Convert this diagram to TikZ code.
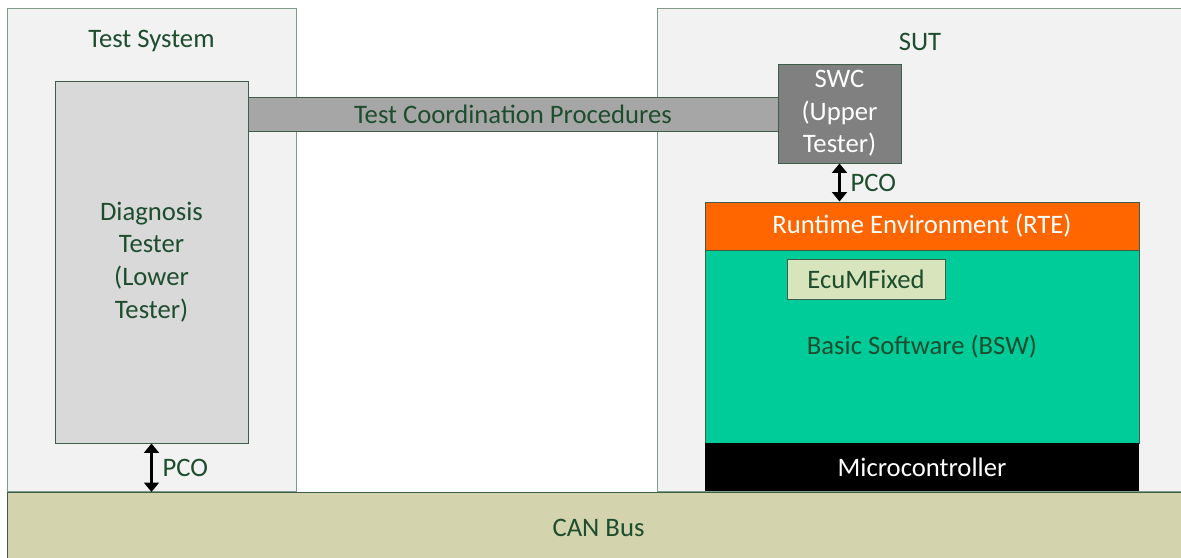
\documentclass[tikz,border=0pt]{standalone}
\usepackage{fontspec}
\setmainfont{Carlito}
\usetikzlibrary{arrows.meta}

\definecolor{txtgreen}{HTML}{1E4D2E}
\definecolor{framegreen}{HTML}{7F9A88}
\definecolor{edgegreen}{HTML}{3E5E4A}
\definecolor{rtecol}{HTML}{FF6600}
\definecolor{bswcol}{HTML}{00CC99}
\definecolor{ecumcol}{HTML}{D8E4BC}
\definecolor{buscol}{HTML}{D3D3AD}

\begin{document}
\begin{tikzpicture}[
    x=0.75pt, y=-0.75pt,
    font=\fontsize{20}{24.5}\selectfont,
    every node/.style={rectangle,inner sep=0pt,text=txtgreen,align=center,line width=0.75pt},
    area/.style={draw=framegreen,fill=black!5},
    block/.style={draw=edgegreen},
    pco/.style={{Triangle[width=11pt,length=7pt]}-{Triangle[width=11pt,length=7pt]},line width=1.6pt}
]
    \useasboundingbox (0,0) rectangle (1181,557);

    % systems
    \node[area,minimum width=216.75pt,minimum height=362.25pt] (testsys) at (151.5,249.5) {};
    \node[area,minimum width=399.75pt,minimum height=362.25pt] (sut) at (923.5,249.5) {};
    \node (testsyslbl) at (151.5,41) {Test System};
    \node (sutlbl) at (920,42) {SUT};

    % bus
    \node[block,fill=buscol,minimum width=887.25pt,minimum height=53.25pt] (canbus) at (598.5,528) {CAN Bus};

    % testers
    \node[block,fill=black!15,minimum width=144.75pt,minimum height=271.5pt] (tester) at (151.5,262)
        {Diagnosis\\Tester\\(Lower\\Tester)};
    \node[block,fill=black!35,minimum width=397.5pt,minimum height=25.5pt] (coord) at (513,114)
        {Test Coordination Procedures};
    \node[block,fill=black!50,text=white,minimum width=92.25pt,minimum height=74.25pt] (swc) at (839.5,113.5)
        {SWC\\(Upper\\Tester)};

    % ECU stack
    \node[block,fill=rtecol,text=white,minimum width=325.5pt,minimum height=36pt] (rte) at (922,226)
        {Runtime Environment (RTE)};
    \node[block,fill=bswcol,minimum width=325.5pt,minimum height=144.75pt] (bsw) at (922,346.5)
        {Basic Software (BSW)};
    \node[block,fill=ecumcol,minimum width=118.5pt,minimum height=30pt] (ecum) at (866,279) {EcuMFixed};
    \node[fill=black,text=white,minimum width=325.5pt,minimum height=36pt] (micro) at (922,467)
        {Microcontroller};

    % points of control and observation
    \draw[pco] (tester.south) -- (tester.south |- canbus.north)
        node[midway,right=8pt] {PCO};
    \draw[pco] (swc.south) -- (swc.south |- rte.north)
        node[midway,right=8pt] {PCO};
\end{tikzpicture}
\end{document}
